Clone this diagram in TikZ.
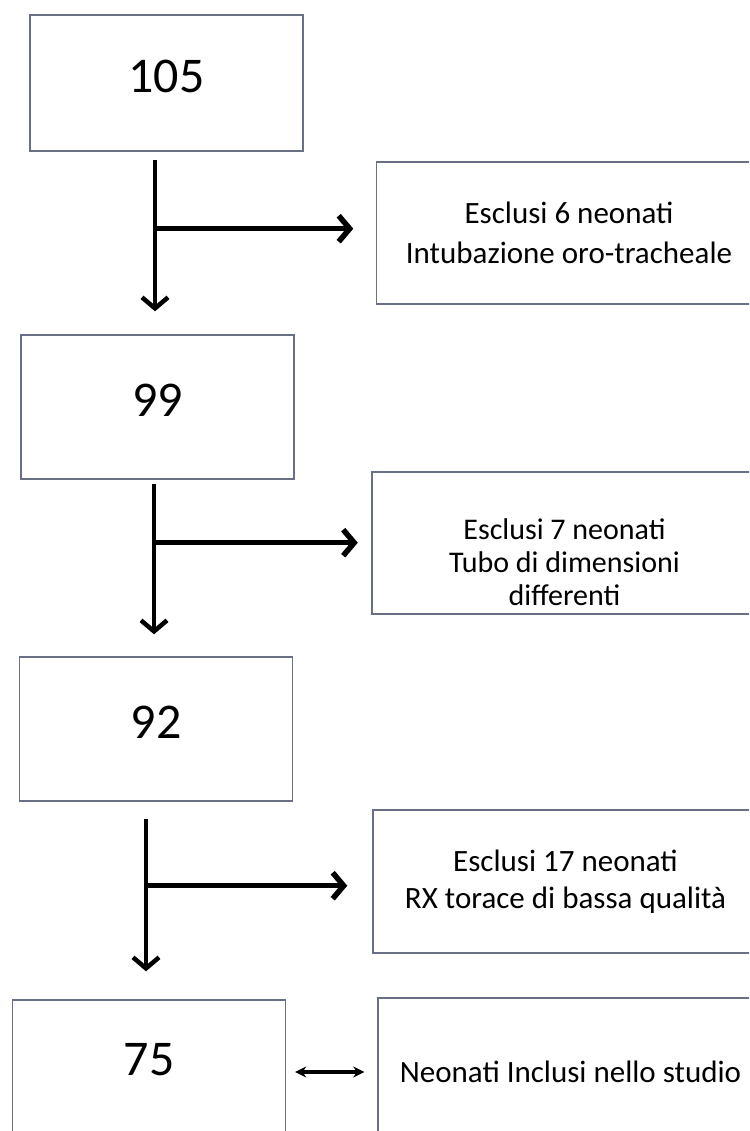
\documentclass[tikz,border=0pt]{standalone}
\usepackage{fontspec}
\setmainfont{Carlito}
\usetikzlibrary{arrows.meta}
\definecolor{boxgray}{RGB}{105,111,132}

\begin{document}
\begin{tikzpicture}[x=1pt,y=1pt]
  \tikzstyle{numbox}=[rectangle, draw=boxgray, line width=1.4pt, minimum width=273pt, minimum height=144pt, inner sep=0pt, font=\fontsize{50}{60}\selectfont, text depth=14pt]
  \tikzstyle{exbox}=[rectangle, draw=boxgray, line width=1.4pt, minimum width=385pt, minimum height=142pt, inner sep=0pt, align=center, font=\fontsize{31}{40}\selectfont]
  \tikzstyle{flow}=[line width=4.5pt, -{Straight Barb[length=11pt,width=26pt]}]
  \tikzstyle{flowside}=[line width=5.5pt, -{Straight Barb[length=11pt,width=26pt]}]
  \tikzstyle{both}=[line width=3.2pt, {Stealth[length=11pt,width=11pt]}-{Stealth[length=11pt,width=11pt]}]

  \useasboundingbox (0,0) rectangle (749,-1131);
  \clip (0,0) rectangle (749,-1131);
  \fill[white] (0,0) rectangle (749,-1131);

  \node[numbox, minimum height=136pt] (N_1) at (166.5,-83) {105};
  \node[numbox] (N_2) at (157.5,-407) {99};
  \node[numbox] (N_3) at (156,-729) {92};
  \node[numbox, text depth=26pt] (N_4) at (149,-1072) {75};

  \node[exbox] (E_1) at (569,-233) {Esclusi 6 neonati\\Intubazione oro-tracheale};
  \node[exbox, font=\fontsize{30}{33}\selectfont] (E_2) at (564.5,-543) {\rule{0pt}{60pt}Esclusi 7 neonati\\Tubo di dimensioni\\differenti};
  \node[exbox, minimum height=143pt, font=\fontsize{31}{37}\selectfont] (E_3) at (565.5,-881.5) {Esclusi 17 neonati\\RX torace di bassa qualità};
  \node[exbox, minimum height=148pt] (I_4) at (570.5,-1072) {Neonati Inclusi nello studio};

  \draw[flow, shorten <=8pt, shorten >=23pt] ([xshift=-11.5pt]N_1.south) -- ([xshift=-11.5pt]N_1.south |- N_2.north);
  \draw[flowside, shorten >=11pt] ([xshift=-11.5pt,yshift=-77pt]N_1.south) -- ([xshift=-11.5pt,yshift=-77pt]N_1.south -| E_1.west);

  \draw[flow, shorten <=4pt, shorten >=22pt] ([xshift=-3.5pt]N_2.south) -- ([xshift=-3.5pt]N_2.south |- N_3.north);
  \draw[flowside, shorten >=10pt] ([xshift=-3.5pt,yshift=-63pt]N_2.south) -- ([xshift=-3.5pt,yshift=-63pt]N_2.south -| E_2.west);

  \draw[flow, shorten <=17pt, shorten >=28pt] ([xshift=-10pt]N_3.south) -- ([xshift=-10pt]N_3.south |- N_4.north);
  \draw[flowside, shorten >=15pt] ([xshift=-10pt,yshift=-84pt]N_3.south) -- ([xshift=-10pt,yshift=-84pt]N_3.south -| E_3.west);

  \draw[both, shorten <=9pt, shorten >=13pt] (N_4.east) -- (N_4.east -| I_4.west);
\end{tikzpicture}
\end{document}
